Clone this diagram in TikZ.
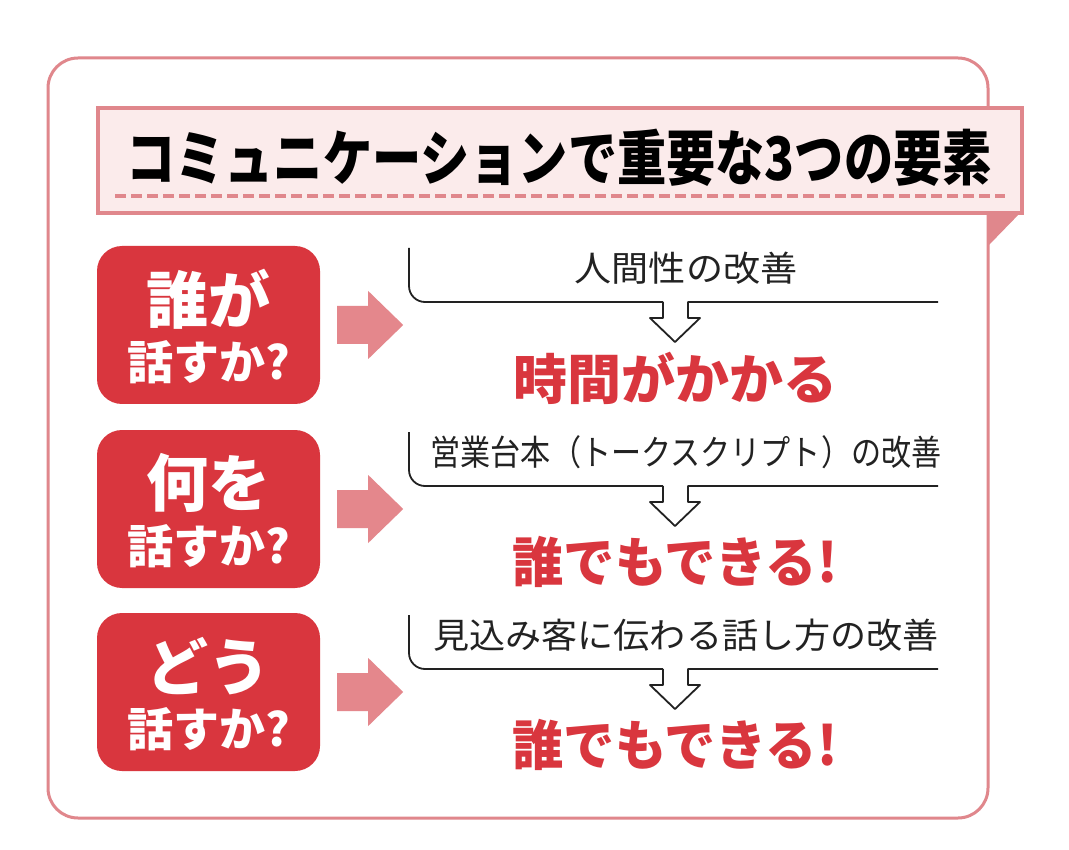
\documentclass[tikz,border=0pt]{standalone}
\usepackage{fontspec}
\usetikzlibrary{calc}
\setmainfont{Noto Sans CJK JP}
\newfontfamily\cjk{Noto Sans CJK JP}
\definecolor{framepink}{HTML}{E0878C}
\definecolor{bannerfill}{HTML}{FBEBEB}
\definecolor{arrowpink}{HTML}{E4878C}
\definecolor{boxred}{HTML}{D9363E}
\definecolor{graytext}{HTML}{222222}
\tikzset{
  titletext/.style={font=\cjk\bfseries\fontsize{60}{60}\selectfont, text=black, inner sep=0pt},
  redbox/.style={fill=boxred, rounded corners=25pt, minimum width=223pt, minimum height=158pt, inner sep=0pt},
  boxbig/.style={font=\cjk\bfseries\fontsize{62}{62}\selectfont, text=white, inner sep=0pt},
  boxsmall/.style={font=\cjk\bfseries\fontsize{46}{46}\selectfont, text=white, inner sep=0pt},
  graylabel/.style={font=\cjk\fontsize{35}{35}\selectfont, text=graytext, inner sep=0pt},
  redlabel/.style={font=\cjk\bfseries\fontsize{54}{54}\selectfont, text=boxred, inner sep=0pt},
  bracketline/.style={draw=graytext, line width=1.8pt, line join=round},
  pinkarrow/.style={fill=arrowpink},
}
\begin{document}
\begin{tikzpicture}[x=1pt,y=-1pt]
\useasboundingbox (0,0) rectangle (1069,850);
\fill[white] (0,0) rectangle (1069,850);
% outer frame
\draw[framepink, line width=3pt, rounded corners=30pt] (48,58) rectangle (988,818);
% banner fold
\fill[framepink] (988,211) -- (1022,211) -- (988,246) -- cycle;
% banner
\draw[framepink, fill=bannerfill, line width=4pt] (98,108) rectangle (1022,213);
\draw[framepink, line width=4pt, dash pattern=on 11pt off 5pt] (115,196) -- (1005,196);
\node[titletext] (title) at (559,158) {\scalebox{0.82}[1]{コミュニケーションで重要な3つの要素}};
% rows
\foreach \i/\dy/\bigt/\grayt/\gsx/\redt/\rsx in {
  1/0/誰が/人間性の改善/1.06/時間がかかる/1.0,
  2/184/何を/営業台本（トークスクリプト）の改善/0.86/誰でもできる!/0.95,
  3/367/どう/見込み客に伝わる話し方の改善/1.03/誰でもできる!/0.95}{
  \node[redbox] (box\i) at (208.5,325+\dy) {};
  \node[boxbig] (big\i) at (208.5,299+\dy) {\bigt};
  \node[boxsmall] (small\i) at (208.5,362+\dy) {話すか?};
  \fill[pinkarrow] ($(box\i.east)+(17,-19)$) -- ++(31,0) -- ++(0,-15) -- ($(box\i.east)+(83,0)$)
     -- ($(box\i.east)+(48,34)$) -- ++(0,-15) -- ($(box\i.east)+(17,19)$) -- cycle;
  \node[graylabel] (gray\i) at (686,268+\dy) {\scalebox{\gsx}[1]{\grayt}};
  \node[redlabel] (red\i) at (675,378+\dy) {\scalebox{\rsx}[1]{\redt}};
  \coordinate (bl\i) at (409,302+\dy);
  \draw[bracketline] (409,248+\dy) [rounded corners=16pt] -- (bl\i) -- (663,302+\dy);
  \draw[bracketline] (663,302+\dy) -- (663,318+\dy) -- (650,318+\dy) -- (675,342+\dy)
     -- (700,318+\dy) -- (688,318+\dy) -- (688,302+\dy) -- (938,302+\dy);
}
\end{tikzpicture}
\end{document}
